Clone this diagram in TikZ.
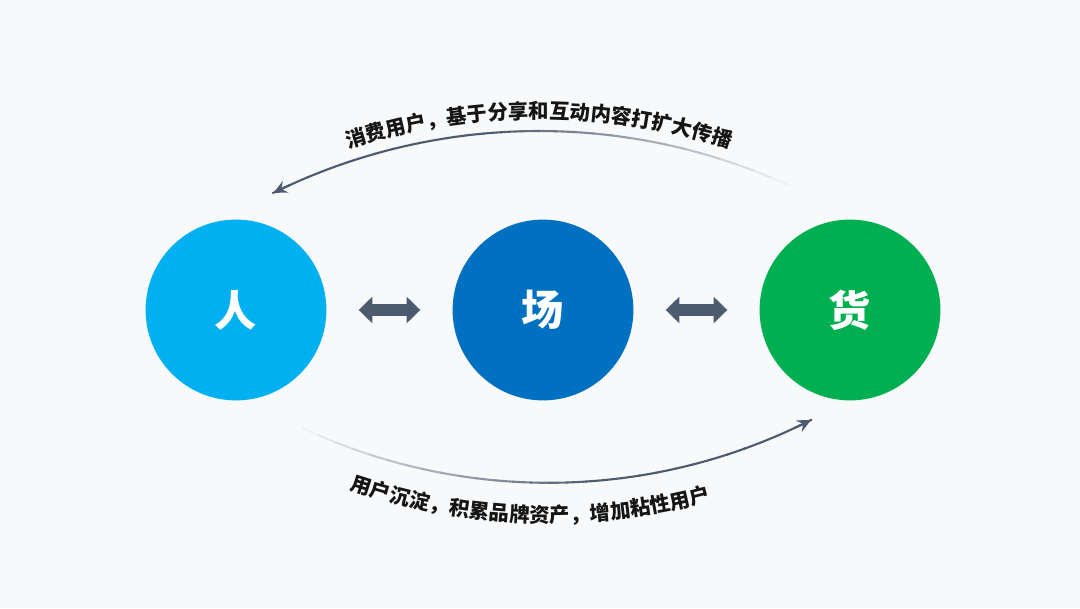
\documentclass[tikz,border=0pt]{standalone}
\usepackage{fontspec}
\usepackage{tikz}
\usetikzlibrary{arrows.meta,positioning,decorations.text}
\newfontfamily\cjk{Noto Sans CJK SC}
\definecolor{hbg}{HTML}{F8F9FA}
\definecolor{hren}{HTML}{00B0F0}
\definecolor{hchang}{HTML}{0070C0}
\definecolor{hhuo}{HTML}{00B050}
\definecolor{harr}{HTML}{4D5B70}
\definecolor{hink}{HTML}{151515}
\newcommand{\flowfont}{\cjk\bfseries\fontsize{14.5pt}{16pt}\selectfont\color{hink}}
\tikzset{
  hub/.style={circle,minimum size=4.52cm,inner sep=0pt,text=white,
              font=\cjk\bfseries\fontsize{30pt}{30pt}\selectfont},
  dblarr/.style={draw=harr,line width=0.3cm,
              {Triangle[length=0.34cm,width=0.64cm]}-{Triangle[length=0.34cm,width=0.64cm]},
              shorten <=0.8cm,shorten >=0.8cm},
  flowline/.style={line width=1.5pt},
  flowtip/.style={-{Stealth[length=3.4mm,width=3.2mm,inset=1.2mm]},line width=1.5pt,draw=harr},
}

\begin{document}
\begin{tikzpicture}[x=1cm,y=1cm]
  \fill[hbg] (0,0) rectangle (27,15.2);
  \useasboundingbox (0,0) rectangle (27,15.2);

  \node[hub,fill=hren]   (ren)   at (5.9,7.45)    {人};
  \node[hub,fill=hchang] (chang) at (13.575,7.45) {场};
  \node[hub,fill=hhuo]   (huo)   at (21.25,7.45)  {货};

  \draw[dblarr] (ren) -- (chang);
  \draw[dblarr] (chang) -- (huo);

  % upper flow: huo -> ren, fading in from the right
  \coordinate (topc) at (13.475,-3.115);
  \foreach \i in {0,...,29}{
    \pgfmathsetmacro\a{63.8+\i*1.7467}
    \pgfmathtruncatemacro\p{min(100,\i*100/17)}
    \draw[flowline,draw=harr!\p!hbg] (topc) ++(\a:15.04) arc[start angle=\a,delta angle=1.85,radius=15.04];
  }
  \draw[flowtip] (topc) ++(114.5:15.04) arc[start angle=114.5,end angle=116.2,radius=15.04];
  \path[decorate,decoration={text along path,text align=center,
      text={|\flowfont|消费用户，基于分享和互动内容打扩大传播}}]
    (topc) ++(130:15.35) arc[start angle=130,end angle=50,radius=15.35];

  % lower flow: ren -> huo, fading in from the left
  \coordinate (botc) at (13.71,17.64);
  \foreach \i in {0,...,29}{
    \pgfmathsetmacro\a{243.1+\i*1.7933}
    \pgfmathtruncatemacro\p{min(100,\i*100/17)}
    \draw[flowline,draw=harr!\p!hbg] (botc) ++(\a:14.51) arc[start angle=\a,delta angle=1.9,radius=14.51];
  }
  \draw[flowtip] (botc) ++(295.2:14.51) arc[start angle=295.2,end angle=296.9,radius=14.51];
  \path[decorate,decoration={text along path,text align=center,
      text={|\flowfont|用户沉淀，积累品牌资产，增加粘性用户}}]
    (botc) ++(233.25:15.5) arc[start angle=233.25,end angle=303.25,radius=15.5];
\end{tikzpicture}
\end{document}
